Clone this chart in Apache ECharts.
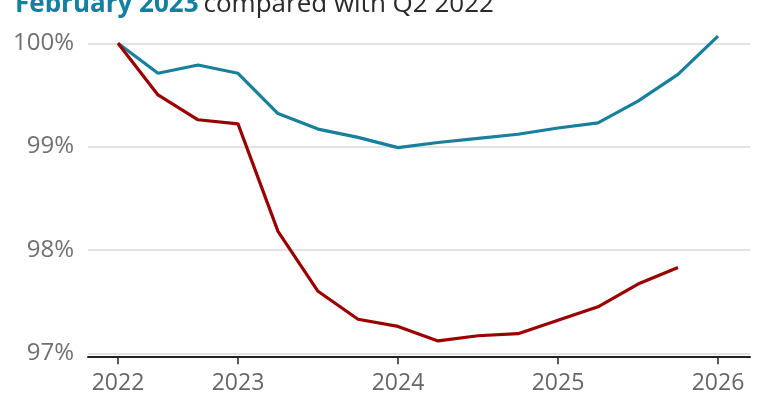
<!DOCTYPE html>
<html>
<head>
<meta charset="utf-8">
<script src="https://cdn.jsdelivr.net/npm/echarts@6/dist/echarts.min.js"></script>
<style>
  html, body { margin: 0; padding: 0; background: #fff; }
  #chart { width: 770px; height: 400px; }
</style>
</head>
<body>
<div id="chart"></div>
<script>
// quarters from Q2 2022 to Q1 2026
const quarters = ['2022 Q2', '2022 Q3', '2022 Q4',
  '2023 Q1', '2023 Q2', '2023 Q3', '2023 Q4',
  '2024 Q1', '2024 Q2', '2024 Q3', '2024 Q4',
  '2025 Q1', '2025 Q2', '2025 Q3', '2025 Q4',
  '2026 Q1']
// teal line
const tealValues = [100, 99.71, 99.79, 99.71, 99.32, 99.17, 99.09, 98.99, 99.04, 99.08, 99.12, 99.18, 99.23, 99.44, 99.70, 100.07]
// dark red line
const redValues = [100, 99.50, 99.26, 99.22, 98.18, 97.60, 97.33, 97.26, 97.12, 97.17, 97.19, 97.32, 97.45, 97.67, 97.83]
const yTicks = [97, 98, 99, 100]

// year ticks: first point and each Q1
let yearTicks = []
quarters.forEach(function (q, i) {
  if (i === 0 || q.slice(5) === 'Q1') yearTicks.push(i)
})

let myChart = echarts.init(document.getElementById('chart'))
let labelFont = '"Open Sans", "Noto Sans", sans-serif'

let option = {
  animation: false,
  backgroundColor: '#fff',
  title: {
    text: '{a|February 2023} {b|compared with Q2 2022}',
    left: 10,
    top: -13,
    textStyle: {
      fontWeight: 'normal',
      rich: {
        a: { fontFamily: labelFont, fontSize: 26, fontWeight: 'bold', color: '#1380a1' },
        b: { fontFamily: labelFont, fontSize: 26, fontWeight: 'normal', color: '#2a2a2a' }
      }
    }
  },
  grid: {
    left: 88,
    right: 20,
    top: 43.3,
    bottom: 46.7
  },
  xAxis: {
    type: 'value',
    min: -0.75,
    max: 15.8,
    offset: 3,
    splitLine: { show: false },
    axisLine: { show: true, lineStyle: { color: '#222', width: 2 } },
    axisTick: {
      show: true,
      customValues: yearTicks,
      length: 8,
      lineStyle: { color: '#222', width: 1.5 }
    },
    axisLabel: {
      customValues: yearTicks,
      formatter: function (v) { return quarters[v].slice(0, 4) },
      margin: 16,
      fontFamily: labelFont,
      fontSize: 23,
      color: '#666'
    }
  },
  yAxis: {
    type: 'value',
    min: yTicks[0],
    max: yTicks[yTicks.length - 1],
    interval: 1,
    axisLine: { show: false },
    axisTick: { show: false },
    splitLine: { lineStyle: { color: '#dadada', width: 1.5 } },
    axisLabel: {
      formatter: '{value}%',
      margin: 14,
      fontFamily: labelFont,
      fontSize: 24,
      color: '#707070'
    }
  },
  series: [
    {
      name: 'teal',
      type: 'line',
      clip: false,
      symbol: 'none',
      lineStyle: { color: '#17809c', width: 3.2 },
      data: tealValues.map(function (v, i) { return [i, v] })
    },
    {
      name: 'red',
      type: 'line',
      clip: false,
      symbol: 'none',
      lineStyle: { color: '#990000', width: 3.2 },
      data: redValues.map(function (v, i) { return [i, v] })
    }
  ]
}
myChart.setOption(option)
</script>
</body>
</html>
